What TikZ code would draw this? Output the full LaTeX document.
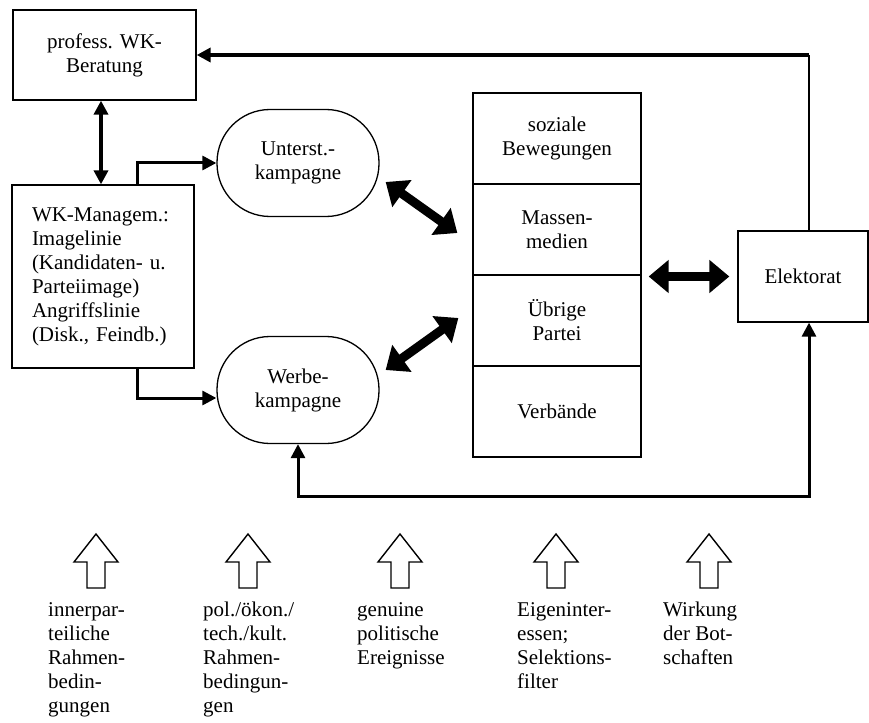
\documentclass[tikz,border=0pt]{standalone}
\usepackage{fontspec}
\setmainfont{Liberation Serif}
\usetikzlibrary{arrows.meta}

\tikzset{
  box/.style={draw, line width=1.3pt, align=center, inner sep=0pt},
  bubble/.style={draw, line width=1.3pt, rounded corners=53pt, align=center,
    minimum width=162pt, minimum height=107pt},
  cell/.style={draw, line width=1.3pt, align=center, minimum width=168pt, minimum height=91pt},
  link/.style={line width=3pt, -{Triangle[length=14pt,width=14pt]}},
  linkboth/.style={line width=3pt, {Triangle[length=14pt,width=14pt]}-{Triangle[length=14pt,width=14pt]}},
  fat/.style={line width=9pt, {Triangle[length=20pt,width=32pt]}-{Triangle[length=20pt,width=32pt]}},
  hollow/.style={draw, line width=1.4pt, line join=miter},
  note/.style={align=left, inner sep=0pt, anchor=north west}
}

\begin{document}
\begin{tikzpicture}[x=1pt, y=-1pt, font=\rmfamily\fontsize{21}{24}\selectfont]
  \useasboundingbox (0,0) rectangle (869,722);
  % Beratung und Management
  \node[box, minimum width=183pt, minimum height=90pt] (prof) at (104.5,55) {profess. WK-\\Beratung};
  \node[box, minimum width=182pt, minimum height=183pt, text width=142pt, align=left,
    inner xsep=20pt] (wk) at (103,276.5)
    {WK-Managem.:\\Imagelinie\\(Kandidaten- u.\\Parteiimage)\\Angriffslinie\\(Disk., Feindb.)};
  % Kampagnen
  \node[bubble] (unt) at (298,163) {Unterst.-\\kampagne};
  \node[bubble] (wer) at (298,390) {Werbe-\\kampagne};
  % Vermittler
  \node[cell] (s1) at (557,138.5) {soziale\\Bewegungen};
  \node[cell] (s2) at (557,229.5) {Massen-\\medien};
  \node[cell] (s3) at (557,320.5) {Übrige\\Partei};
  \node[cell] (s4) at (557,411.5) {Verbände};
  \node[box, minimum width=130pt, minimum height=91pt] (elek) at (803,276.5) {Elektorat};
  % Verbindungen
  \coordinate (tr) at (809,55);
  \coordinate (br) at (809,496);
  \coordinate (sr) at (elek.west -| s2.east);
  \draw[line width=1.3pt] ([xshift=6pt]elek.north) -- (tr);
  \draw[link, line width=3.5pt] (tr) -- (prof.east);
  \draw[linkboth, line width=4pt] ([xshift=-3.5pt]prof.south) -- ([xshift=-2pt]wk.north);
  \draw[link] ([xshift=34pt]wk.north) |- (unt.west);
  \draw[link] ([xshift=34pt]wk.south) |- ([yshift=-8pt]wer.west);
  \draw[fat] ([shift={(6,19)}]unt.east) -- ([shift={(-15,3.5)}]s2.west);
  \draw[fat] ([shift={(6,-20)}]wer.east) -- ([shift={(-14,-2.5)}]s3.west);
  \draw[fat] ([xshift=7pt]sr) -- ([xshift=-8pt]elek.west);
  \draw[linkboth] (wer.south) |- (br) -- ([xshift=6pt]elek.south);
  % Einflussfaktoren
  \foreach \x in {96,248,400,556,709}{
    \draw[hollow] (\x,534) -- (\x+22,562) -- (\x+9,562) -- (\x+9,588)
      -- (\x-9,588) -- (\x-9,562) -- (\x-22,562) -- cycle;
  }
  \node[note] (f1) at (48,602) {innerpar-\\teiliche\\Rahmen-\\bedin-\\gungen};
  \node[note] (f2) at (203,602) {pol./ökon./\\tech./kult.\\Rahmen-\\bedingun-\\gen};
  \node[note] (f3) at (357,602) {genuine\\politische\\Ereignisse};
  \node[note] (f4) at (517,602) {Eigeninter-\\essen;\\Selektions-\\filter};
  \node[note] (f5) at (663,602) {Wirkung\\der Bot-\\schaften};
\end{tikzpicture}
\end{document}
